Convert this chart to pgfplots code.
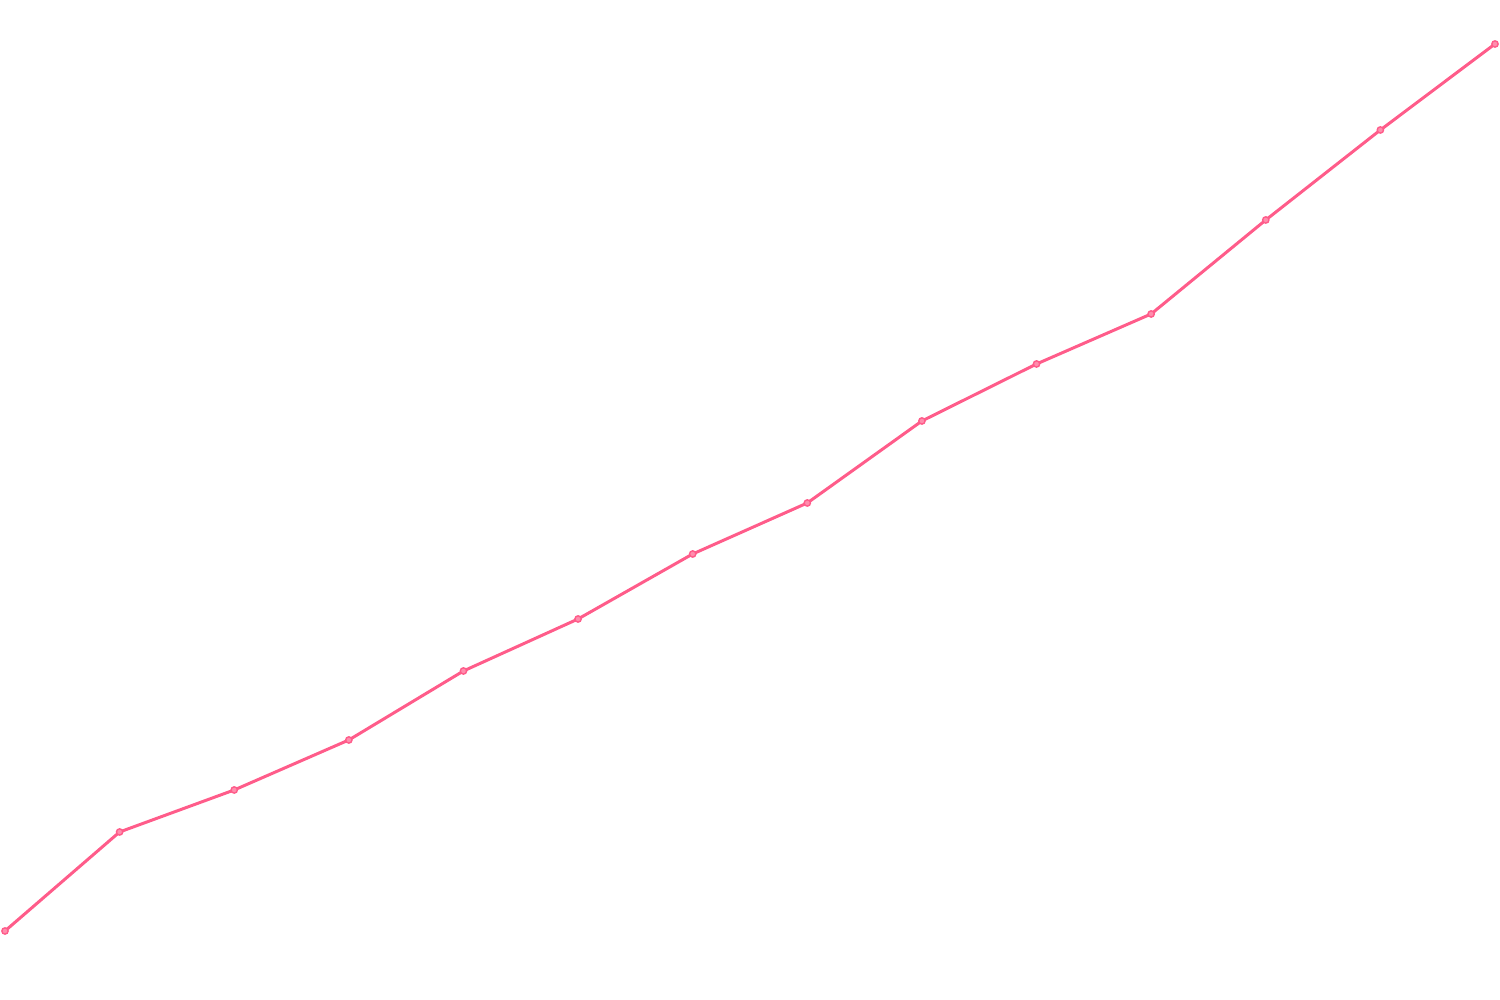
\documentclass[border=0pt]{standalone}
\usepackage{pgfplots}
\pgfplotsset{compat=1.18}
\definecolor{linepink}{RGB}{255,92,138}

\begin{document}
\begin{tikzpicture}
\begin{axis}[
width=15cm,height=10cm,
scale only axis,
hide axis,
clip=false,
xmin=-0.0436,xmax=13.0436,
ymin=0,ymax=1000,
]
\path (rel axis cs:0,0) rectangle (rel axis cs:1,1);
\addplot[color=linepink, line width=0.85pt, mark=*, mark size=0.9pt,
  mark options={fill=linepink!70, draw=linepink, line width=0.4pt}]
coordinates {
(0,69)
(1,168)
(2,210)
(3,260)
(4,329)
(5,381)
(6,446)
(7,497)
(8,579)
(9,636)
(10,686)
(11,780)
(12,870)
(13,956)
};
\end{axis}
\end{tikzpicture}
\end{document}
